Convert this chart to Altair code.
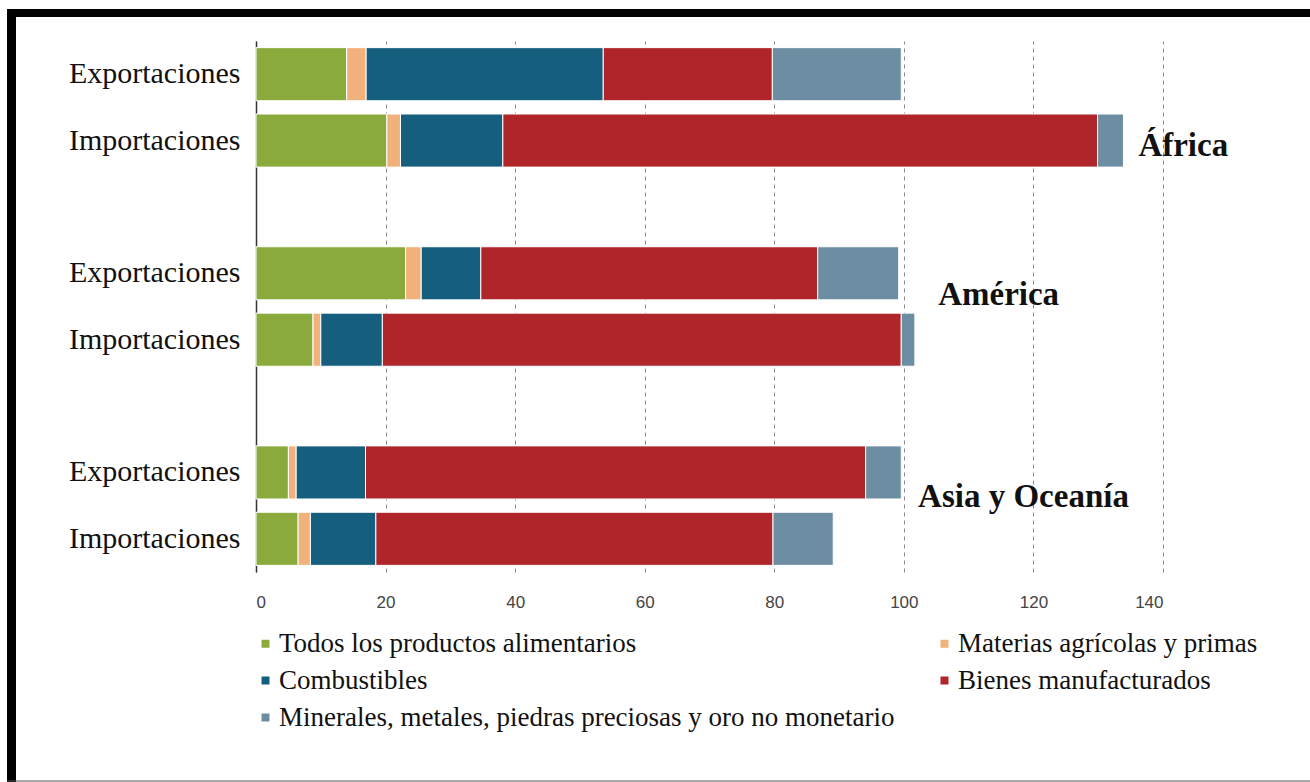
import altair as alt
import pandas as pd

# ---------------- data ----------------
regions = ["África", "América", "Asia y Oceanía"]
flows = ["Exportaciones", "Importaciones"]
categories = [
    "Todos los productos alimentarios",
    "Materias agrícolas y primas",
    "Combustibles",
    "Bienes manufacturados",
    "Minerales, metales, piedras preciosas y oro no monetario",
]
colors = ["#8aab3c", "#f0b27a", "#155e7d", "#b0252a", "#6d8ea2"]

# order of bars: África Exp, África Imp, América Exp, América Imp, Asia Exp, Asia Imp
alimentarios = [14.0, 20.2, 23.1, 8.8, 5.0, 6.5]
agricolas = [3.0, 2.1, 2.4, 1.2, 1.2, 1.9]
combustibles = [36.6, 15.8, 9.2, 9.5, 10.7, 10.1]
manufacturados = [26.1, 91.8, 52.0, 80.1, 77.2, 61.3]
minerales = [19.9, 4.0, 12.5, 2.1, 5.5, 9.3]
x_ticks = [0, 20, 40, 60, 80, 100, 120, 140]

series = [alimentarios, agricolas, combustibles, manufacturados, minerales]

bar_keys = [f"{r}|{f}" for r in regions for f in flows]
row_domain = [
    bar_keys[0], bar_keys[1], "gap1",
    bar_keys[2], bar_keys[3], "gap2",
    bar_keys[4], bar_keys[5],
]

rows = []
for ci, (cat, vals) in enumerate(zip(categories, series)):
    for bi, key in enumerate(bar_keys):
        rows.append({"row": key, "cat": cat, "order": ci, "value": vals[bi]})
df = pd.DataFrame(rows)

W, H = 907, 531
LEFT, TOP = 256, 41

y_enc = alt.Y(
    "row:N",
    scale=alt.Scale(domain=row_domain, paddingInner=0.2, paddingOuter=0.1),
    axis=alt.Axis(
        title=None,
        labelExpr="indexof(datum.value, '|') > 0 ? split(datum.value, '|')[1] : ''",
        labelFont="Liberation Serif",
        labelFontSize=30,
        labelColor="#111111",
        labelPadding=16,
        ticks=False,
        domainColor="#333333",
        domainWidth=1.5,
        grid=False,
    ),
)

bars = alt.Chart(df).mark_bar(stroke="white", strokeWidth=1).encode(
    x=alt.X(
        "value:Q",
        stack="zero",
        scale=alt.Scale(domain=[0, 140], nice=False),
        axis=alt.Axis(
            title=None,
            values=x_ticks,
            domain=False,
            ticks=False,
            grid=True,
            gridDash=[4, 4],
            gridColor="#8a8a8a",
            gridWidth=1,
            labelFont="Liberation Sans",
            labelFontSize=17,
            labelColor="#444444",
            labelPadding=22,
        ),
    ),
    y=y_enc,
    color=alt.Color(
        "cat:N",
        scale=alt.Scale(domain=categories, range=colors),
        legend=alt.Legend(
            title=None,
            orient="none",
            direction="horizontal",
            legendX=-4,
            legendY=589,
            columns=2,
            columnPadding=36,
            rowPadding=9,
            labelFont="Liberation Serif",
            labelFontSize=27,
            labelColor="#111111",
            labelLimit=2000,
            labelOffset=0,
            symbolType="square",
            symbolSize=64,
            symbolStrokeWidth=0,
        ),
    ),
    order=alt.Order("order:Q"),
)


def region_text(name, xval, rowkey, dy):
    d = pd.DataFrame({"label": [name], "x": [xval], "row": [rowkey]})
    return alt.Chart(d).mark_text(
        align="left", baseline="middle", dy=dy,
        font="Liberation Serif", fontSize=33, fontWeight="bold", color="#111111",
    ).encode(
        x=alt.X("x:Q"),
        y=alt.Y("row:N"),
        text="label:N",
    )

t1 = region_text(regions[0], 136.2, bar_keys[1], 5)
t2 = region_text(regions[1], 105.3, bar_keys[2], 22)
t3 = region_text(regions[2], 102.2, bar_keys[4], 25)

one = pd.DataFrame({"a": [0]})
frame_top = alt.Chart(one).mark_rule(color="black", strokeWidth=8).encode(
    x=alt.value(7 - LEFT), x2=alt.value(1310 - LEFT), y=alt.value(13 - TOP)
)
frame_left = alt.Chart(one).mark_rule(color="black", strokeWidth=9).encode(
    x=alt.value(11.5 - LEFT), y=alt.value(9 - TOP), y2=alt.value(782 - TOP)
)
frame_bottom = alt.Chart(one).mark_rule(color="#555555", strokeWidth=1).encode(
    x=alt.value(7 - LEFT), x2=alt.value(1310 - LEFT), y=alt.value(781 - TOP)
)

chart = alt.layer(bars, t1, t2, t3, frame_top, frame_left, frame_bottom).properties(
    width=W,
    height=H,
    autosize=alt.AutoSizeParams(type="none"),
    padding={"left": LEFT, "top": TOP, "right": 1310 - LEFT - W, "bottom": 782 - TOP - H},
    background="white",
).configure_view(stroke=None)

chart.save("out.html", embed_options={"renderer": "svg", "actions": False})
